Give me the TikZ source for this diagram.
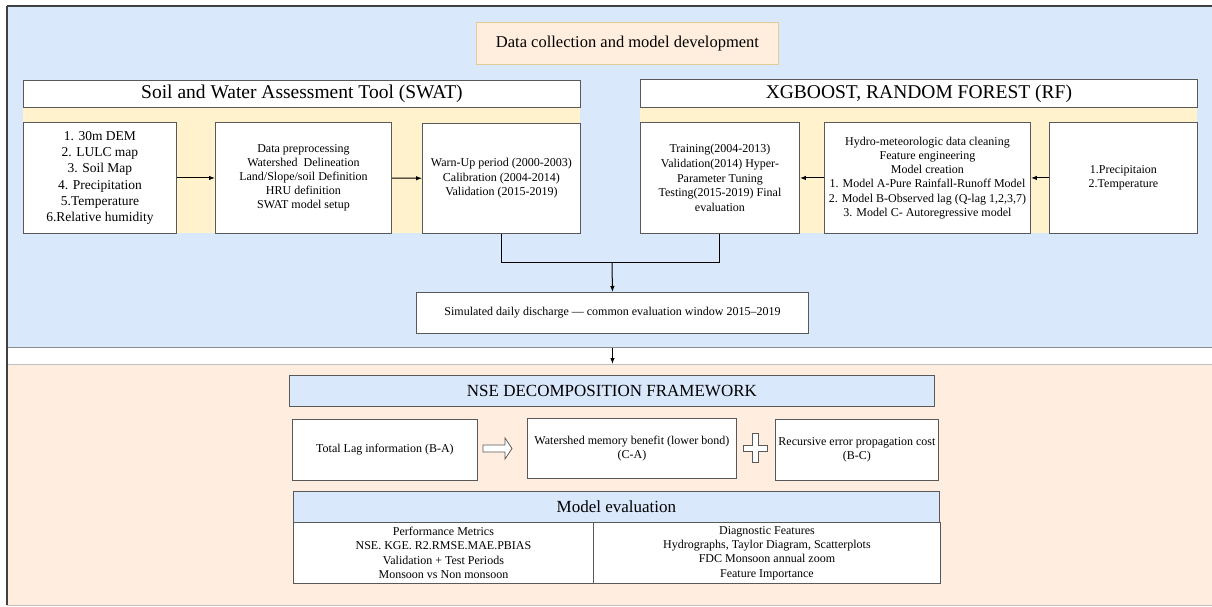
\documentclass[tikz,border=0pt]{standalone}
\usepackage{fontspec}
\setmainfont{Liberation Serif}
\usetikzlibrary{arrows.meta}
\definecolor{bluebg}{HTML}{DAE8FC}
\definecolor{peachbg}{HTML}{FFEEDF}
\definecolor{yellowbg}{HTML}{FFF2CC}
\definecolor{dcfill}{HTML}{FFEEDD}
\definecolor{dcline}{HTML}{E3CB96}
\tikzset{
  box/.style={draw=black!65, line width=0.9pt, fill=white, inner sep=0pt, align=center, anchor=north west},
  txt/.style={font=\fontsize{12}{14.3}\selectfont},
  hdr/.style={font=\fontsize{19.5}{22}\selectfont},
  arr/.style={draw=black, line width=1pt, -{Latex[length=6pt,width=4.5pt]}},
  ln/.style={draw=black, line width=1pt},
}
\begin{document}
\begin{tikzpicture}[x=1pt,y=-1pt]
\useasboundingbox (0,0) rectangle (1212,606);
% regions
\node[draw=black!45, line width=1.2pt, fill=bluebg, anchor=north west, minimum width=1212pt, minimum height=341pt, inner sep=0pt] (top) at (7,6) {};
\node[draw=black!25, line width=1.2pt, fill=peachbg, anchor=north west, minimum width=1212pt, minimum height=241pt, inner sep=0pt] (bot) at (7,364) {};
\draw[draw=black!75, line width=1.4pt] (7,6) -- (7,605);
\draw[draw=black!75, line width=1.4pt] (7,6) -- (1212,6);
% title
\node[box, draw=dcline, fill=dcfill, minimum width=302pt, minimum height=42pt, font=\fontsize{16.5}{19}\selectfont] (dc) at (476,22) {Data collection and model development};
% SWAT
\fill[yellowbg] (23,107) rectangle (580,233);
\node[box, hdr, minimum width=557pt, minimum height=27pt] (swh) at (23,80) {Soil and Water Assessment Tool (SWAT)};
\node[box, minimum width=153pt, minimum height=111pt, font=\fontsize{13.5}{16.3}\selectfont] (b1) at (23,122) {1. 30m DEM\\2. LULC map\\3. Soil Map\\4. Precipitation\\5.Temperature\\6.Relative humidity};
\node[box, txt, minimum width=176pt, minimum height=111pt, font=\fontsize{12}{14}\selectfont] (b2) at (215,122) {Data preprocessing\\Watershed\ \ Delineation\\Land/Slope/soil Definition\\HRU definition\\SWAT model setup};
\node[box, txt, minimum width=158pt, minimum height=110pt, font=\fontsize{12}{14.5}\selectfont] (b3) at (422,123) {Warn-Up period (2000-2003)\\Calibration (2004-2014)\\Validation (2015-2019)};
% XGB
\fill[yellowbg] (640,107) rectangle (1197,233);
\node[box, hdr, minimum width=557pt, minimum height=28pt] (xgh) at (640,79) {XGBOOST, RANDOM FOREST (RF)};
\node[box, txt, minimum width=159pt, minimum height=111pt, font=\fontsize{12}{14.6}\selectfont] (xa) at (640,122) {Training(2004-2013)\\Validation(2014) Hyper-\\Parameter Tuning\\Testing(2015-2019) Final\\evaluation};
\node[box, txt, minimum width=206pt, minimum height=111pt] (xb) at (824,122) {Hydro-meteorologic data cleaning\\Feature engineering\\Model creation\\1. Model A-Pure Rainfall-Runoff Model\\2. Model B-Observed lag (Q-lag 1,2,3,7)\\3. Model C- Autoregressive model};
\node[box, txt, minimum width=148pt, minimum height=111pt, font=\fontsize{12}{14.6}\selectfont] (xc) at (1049,122) {1.Precipitaion\\2.Temperature};
% connectors
\draw[arr] (b1) -- (b2);
\draw[arr] (b2) -- (b3);
\draw[arr] (xc) -- (xb);
\draw[arr] (xb) -- (xa);
\node[box, txt, minimum width=392pt, minimum height=41pt] (sim) at (416,292) {Simulated daily discharge --- common evaluation window 2015--2019};
\coordinate (j) at (612,262);
\draw[ln] (b3.south) |- (j);
\draw[ln] (xa.south) |- (j);
\draw[arr] (j) -- (sim.north);
\draw[arr] (sim.south |- top.south) -- (sim.south |- bot.north);
% NSE
\node[box, fill=bluebg, minimum width=645pt, minimum height=31pt, font=\fontsize{17}{20}\selectfont] (nse) at (289,375) {NSE DECOMPOSITION FRAMEWORK};
\node[box, txt, minimum width=185pt, minimum height=61pt] (tl) at (292,419) {Total Lag information (B-A)};
\node[box, txt, minimum width=209pt, minimum height=60pt] (wm) at (527,418) {Watershed memory benefit (lower bond)\\(C-A)};
\node[box, txt, minimum width=163pt, minimum height=61pt] (rc) at (775,419) {Recursive error propagation cost\\(B-C)};
\draw[draw=black!65, line width=0.8pt, fill=white] (483,445) -- (505,445) -- (505,438) -- (512,448.5) -- (505,459) -- (505,452) -- (483,452) -- cycle;
\draw[draw=black!65, line width=0.8pt, fill=white] (752.5,433) -- (758,433) -- (758,445.5) -- (767,445.5) -- (767,451) -- (758,451) -- (758,462) -- (752.5,462) -- (752.5,451) -- (743,451) -- (743,445.5) -- (752.5,445.5) -- cycle;
% Model evaluation
\node[box, fill=bluebg, minimum width=646pt, minimum height=31pt, font=\fontsize{17}{20}\selectfont] (me) at (293,491) {Model evaluation};
\node[box, txt, minimum width=300pt, minimum height=61pt] (pm) at (293,522) {Performance Metrics\\NSE. KGE. R2.RMSE.MAE.PBIAS\\Validation + Test Periods\\Monsoon vs Non monsoon};
\node[box, txt, minimum width=347pt, minimum height=61pt] (df) at (593,522) {Diagnostic Features\\Hydrographs, Taylor Diagram, Scatterplots\\FDC Monsoon annual zoom\\Feature Importance};
\end{tikzpicture}
\end{document}
